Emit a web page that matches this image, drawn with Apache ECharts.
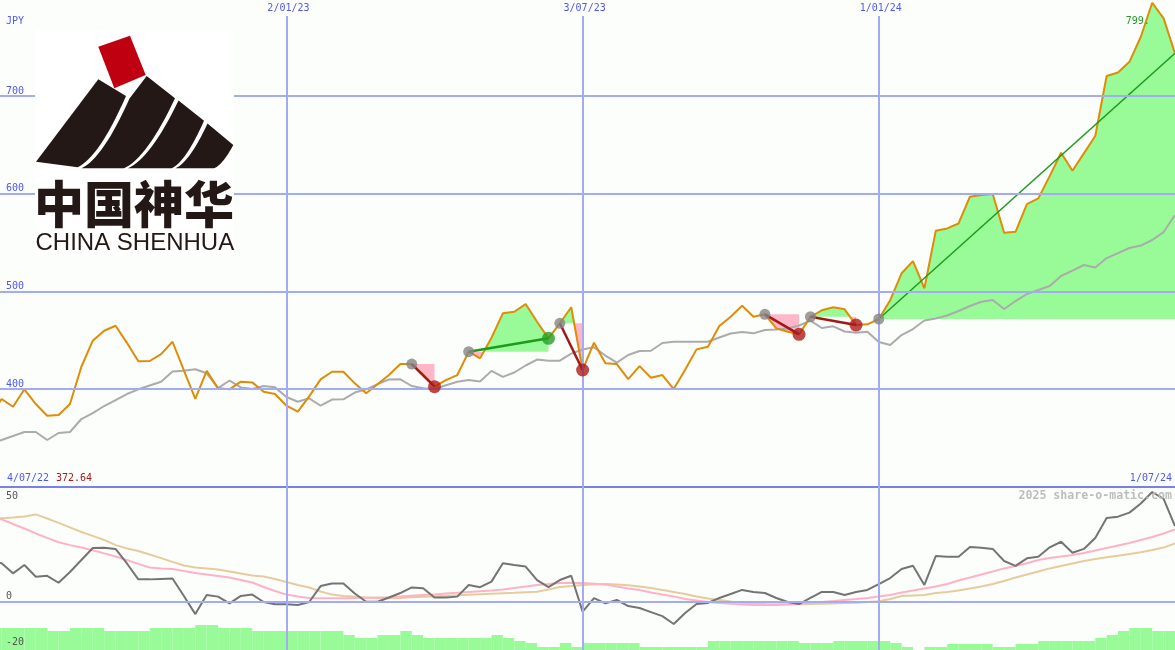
<!DOCTYPE html>
<html><head><meta charset="utf-8">
<script src="https://cdn.jsdelivr.net/npm/echarts@6/dist/echarts.min.js"></script>
<style>html,body{margin:0;padding:0;background:#fcfefc;} #c{width:1175px;height:650px;}</style>
</head><body><div id="c"></div>
<script>
// ---- axis range (weekly data, Mondays) ----
const firstWeek = Date.UTC(2022, 6, 4);
const WEEK = 7 * 86400000;
const axisStart = Date.UTC(2022, 6, 10);
const axisEnd = Date.UTC(2024, 6, 1);

// ---- upper panel: weekly close (JPY) and its moving average ----
const price = [372.64, 389.8, 381.9, 399.7, 384.6, 372.7, 373.4, 384.6, 422.8, 449.5, 459.7,
  464.8, 447.3, 428.4, 428.7, 435.8, 448.4, 419.0, 389.8, 418.7, 400.7,
  399.7, 407.5, 406.8, 397.2, 394.9, 382.9, 376.8, 392.5, 409.9, 417.7,
  417.7, 405.8, 395.6, 404.8, 414.3, 425.6, 425.6, 415.0, 402.4, 409.2,
  414.3, 438.2, 431.4, 452.5, 477.5, 479.1, 487.0, 468.9, 451.9, 467.3,
  483.7, 419.5, 447.4, 426.3, 425.6, 410.2, 423.5, 411.6, 414.3, 400.0,
  419.8, 440.6, 443.3, 464.5, 474.0, 485.3, 474.0, 476.5, 462.1, 458.7,
  456.0, 474.0, 480.6, 483.7, 481.6, 465.5, 466.2, 471.7, 491.0, 518.5,
  531.0, 503.1, 562.0, 564.4, 569.5, 596.9, 598.6, 599.6, 560.0, 561.0,
  589.4, 595.2, 618.0, 641.9, 623.4, 641.3, 659.0, 720.5, 724.0, 735.0,
  760.7, 795.5, 779.5, 743.7];
const average = [345, 347.8, 351.9, 356, 356, 347.8, 355, 356, 369.3, 375.4, 382.6,
  388.7, 394.9, 399.7, 403.6, 407.5, 417.9, 418.7, 420.2, 416.1, 401,
  408.7, 401.7, 400, 403.1, 401.7, 391.8, 387, 390.5, 382.9, 389.2,
  389.5, 396.4, 399.7, 405.1, 409.7, 409.9, 403.1, 400.7, 400, 403.8,
  407.4, 409.2, 407.7, 418.6, 412.5, 416.9, 424.1, 430.2, 429, 429,
  436.3, 440.4, 442.7, 434.3, 427.1, 434.8, 438.9, 439.2, 447.1, 448.4,
  448.4, 448.4, 448.4, 452.7, 456.8, 458.4, 457, 460.4, 460.9, 461.9,
  465, 470.1, 462.5, 464.2, 458.9, 457.6, 458.6, 448.1, 445, 455.3,
  461.4, 470.1, 472.2, 475.3, 479.9, 485, 489.3, 491.1, 481.9, 490.1,
  497.3, 501.4, 505.5, 515.7, 521.3, 527, 524.4, 534.1, 539.2, 544.4,
  546.9, 552.6, 560.7, 578.2];

// ---- trades (week indices) ----
const tradeEntry = [37, 42, 50, 68, 72, 78];
const tradeExit = [39, 49, 52, 71, 76, 104];
const tradeOpen = [false, false, false, false, false, true];

// ---- lower panel: oscillator, its two averages, volume ----
const momentum = [18, 17.3, 12.8, 16.5, 11.3, 11.7, 8.6, 13.4, 18.75, 24.1, 24.2,
  23.7, 17.2, 10.1, 10.1, 10.3, 10.5, 2.7, -5.4, 3.1, 2.4,
  -0.6, 2.7, 3.3, 0, -1, -1, -1.3, 0, 7.1, 8.3,
  8.3, 3.8, 0.1, 0.1, 2, 4, 6.5, 6.1, 2, 2,
  2.4, 7.6, 6.6, 9.1, 17.3, 16.5, 15.8, 9.8, 6.6, 9.8,
  11.7, -4.3, 1.7, -0.6, 0.9, -1.8, -2.7, -4.5, -6.3, -9.8,
  -4.9, -0.9, -0.4, 1.8, 3.6, 5.4, 4.5, 4, 1.8, 0,
  -0.9, 1.8, 4.5, 4.5, 3.1, 4.5, 5.4, 8, 10.7, 14.7,
  16.2, 7.6, 20.5, 20.2, 20.2, 24.6, 24.2, 23.7, 18.3, 16.1,
  19.5, 20.2, 24.4, 26.9, 22, 23.7, 28.6, 37.5, 38.1, 39.9,
  44, 49.1, 46, 33.9];
const momFast = [37.5, 36.9, 34.8, 32.8, 30.6, 28.6, 26.7, 25.4, 24.3, 23.1, 21.7,
  20.3, 18.75, 17, 15.4, 15, 14.7, 13.8, 12.9, 12.3, 11.6,
  10.9, 9.8, 8.7, 6.7, 4.9, 3.3, 2.5, 1.8, 1.7, 1.7,
  1.7, 1.8, 1.9, 2, 2.1, 2.5, 2.8, 3.1, 3.4, 3.8,
  4.1, 4.5, 4.8, 5.1, 5.6, 6.25, 6.9, 7.6, 8, 8.5,
  8.6, 8.5, 8.2, 7.8, 6.9, 6, 5.4, 4.2, 3.3, 2.5,
  1.3, 0.7, 0, -0.4, -0.8, -1.1, -1.3, -1.3, -1.3, -1.1,
  -0.9, -0.4, 0, 0.4, 0.9, 1.3, 1.8, 2.5, 3.1, 4.2,
  5.1, 6, 6.9, 8, 9.6, 10.9, 12.3, 13.6, 15, 16.1,
  17.3, 18.75, 19.6, 20.3, 21, 21.9, 23, 24.1, 25.2, 26.3,
  27.7, 29, 30.6, 32.4];
const momSlow = [37.2, 37.4, 37.7, 38.2, 39.1, 37.3, 35.3, 33.3, 31.25, 29.5, 27.7,
  25.4, 23.9, 22.8, 21.2, 19.6, 17.9, 16.3, 15.4, 15, 14.5,
  13.6, 12.7, 11.8, 11.4, 10.3, 8.9, 7.6, 6.5, 4.7, 3.3,
  2.7, 2.4, 2, 1.7, 1.65, 1.8, 2.1, 2.3, 2.5, 2.8,
  3, 3.2, 3.5, 3.7, 3.9, 4.1, 4.4, 4.6, 5.6, 6.7,
  7.1, 7.6, 7.9, 8, 7.8, 7.5, 6.9, 6.25, 5.4, 4.5,
  3.6, 2.5, 1.6, 0.9, 0.2, -0.4, -0.7, -0.9, -1, -1,
  -1, -0.9, -0.8, -0.7, -0.4, -0.3, 0, 0.3, 1.3, 2.7,
  2.9, 3.1, 4, 4.5, 5.1, 6, 6.9, 8, 9.4, 10.9,
  12.3, 13.6, 15, 16.1, 17.2, 18.3, 19.2, 20, 20.6, 21.4,
  22.2, 23.2, 24.3, 26.1];
const volume = [22, 22, 22, 22, 22, 19, 19, 22, 22, 22, 19,
  19, 19, 19, 22, 22, 22, 22, 25, 25, 22,
  22, 22, 19, 19, 19, 19, 19, 19, 19, 19,
  15, 12, 12, 15, 15, 19, 15, 12, 12, 12,
  12, 12, 12, 15, 12, 9, 7, 3, 3, 7,
  3, 7, 7, 7, 7, 7, 3, 3, 3, 3,
  3, 3, 9, 9, 9, 9, 9, 9, 9, 9,
  7, 7, 7, 9, 9, 9, 9, 9, 7, 3,
  0, 3, 3, 6, 6, 6, 6, 3, 3, 6,
  6, 9, 9, 9, 9, 9, 12, 15, 19, 22,
  22, 19, 19, 19];

// ---- ticks / labels ----
const priceTicks = [400, 500, 600, 700];
const momTickLabels = ['50', '0', '-20'];
const guideDates = ['2023-01-02', '2023-07-03', '2024-01-01'];
const guideLabels = ['2/01/23', '3/07/23', '1/01/24'];
const startLabel = '4/07/22', startPrice = '372.64', endLabel = '1/07/24';
const peakLabel = '799.';
const currency = 'JPY';
const credit = '2025 share-o-matic.com';

const dates = price.map((_, i) => firstWeek + i * WEEK);
const pair = arr => arr.map((v, i) => [dates[i], v]);
const guideTs = guideDates.map(d => Date.parse(d));
const guideTop = 781.9;

const BLUE = '#5058ee', GRID = '#a3abf1';
const GREEN_FILL = '#98fb98', PINK_FILL = '#ffb6c8';

const chart = echarts.init(document.getElementById('c'));

const option = {
  animation: false,
  backgroundColor: '#fcfefc',
  grid: [
    {left: 0, right: 0, top: 0, height: 486.7},
    {left: 0, right: 0, top: 487, height: 163}
  ],
  xAxis: [
    {type: 'time', gridIndex: 0, min: axisStart, max: axisEnd, show: false},
    {type: 'time', gridIndex: 1, min: axisStart, max: axisEnd, position: 'top',
      axisLine: {show: true, onZero: false, lineStyle: {color: '#7880ee', width: 2}},
      axisTick: {show: false}, axisLabel: {show: false}, splitLine: {show: false}}
  ],
  yAxis: [
    {type: 'value', gridIndex: 0, min: 300, max: 798.3, show: false},
    {type: 'value', gridIndex: 1, min: -21.43, max: 51.34, show: false},
    {type: 'value', gridIndex: 1, min: 0, max: 163, show: false}
  ],
  series: [
    { // upper guides
      type: 'line', xAxisIndex: 0, yAxisIndex: 0, data: [], z: 0,
      markLine: {
        silent: true, symbol: ['none', 'none'], label: {show: false},
        lineStyle: {type: 'solid', color: GRID, width: 2},
        data: priceTicks.map(v => ({yAxis: v}))
          .concat(guideTs.map(t => [{coord: [t, guideTop]}, {coord: [t, 300]}]))
      }
    },
    { // trade fills
      type: 'custom', xAxisIndex: 0, yAxisIndex: 0, z: 1, clip: true,
      data: tradeEntry.map(e => [dates[e], price[e]]),
      renderItem: function (params, api) {
        const k = params.dataIndex;
        const e = tradeEntry[k], x = tradeExit[k];
        const ly = api.coord([dates[e], price[e]])[1];
        const pts = [];
        for (let i = e; i <= x; i++) pts.push(api.coord([dates[i], price[i]]));
        const up = [], dn = [];
        for (let j = 0; j < pts.length; j++) {
          const p = pts[j];
          if (j > 0) {
            const q = pts[j - 1];
            if ((q[1] - ly) * (p[1] - ly) < 0) {
              const t = (ly - q[1]) / (p[1] - q[1]);
              const c = [q[0] + t * (p[0] - q[0]), ly];
              up.push(c); dn.push(c);
            }
          }
          up.push([p[0], Math.min(p[1], ly)]);
          dn.push([p[0], Math.max(p[1], ly)]);
        }
        const x0 = pts[0][0], x1 = pts[pts.length - 1][0];
        up.push([x1, ly], [x0, ly]);
        dn.push([x1, ly], [x0, ly]);
        return {type: 'group', children: [
          {type: 'polygon', shape: {points: up}, style: {fill: GREEN_FILL}},
          {type: 'polygon', shape: {points: dn}, style: {fill: PINK_FILL}}
        ]};
      }
    },
    {type: 'line', xAxisIndex: 0, yAxisIndex: 0, data: pair(average), z: 2,
      symbol: 'none', lineStyle: {color: '#ababab', width: 2}},
    {type: 'line', xAxisIndex: 0, yAxisIndex: 0, data: pair(price), z: 3,
      symbol: 'none', lineStyle: {color: '#df8c06', width: 2}},
    { // connectors
      type: 'custom', xAxisIndex: 0, yAxisIndex: 0, z: 4, clip: true,
      data: tradeEntry.map(e => [dates[e], price[e]]),
      renderItem: function (params, api) {
        const k = params.dataIndex;
        const e = tradeEntry[k], x = tradeExit[k];
        const a = api.coord([dates[e], price[e]]);
        const b = api.coord([dates[x], price[x]]);
        const win = price[x] >= price[e];
        return {type: 'line', shape: {x1: a[0], y1: a[1], x2: b[0], y2: b[1]},
          style: {stroke: win ? '#1f9a1f' : '#a01818', lineWidth: tradeOpen[k] ? 1.5 : 2.5}};
      }
    },
    {type: 'scatter', xAxisIndex: 0, yAxisIndex: 0, z: 5, symbolSize: 11,
      itemStyle: {color: '#858585'},
      data: tradeEntry.map(e => [dates[e], price[e]])},
    {type: 'scatter', xAxisIndex: 0, yAxisIndex: 0, z: 6, symbolSize: 13,
      itemStyle: {color: '#ad1c1c'},
      data: tradeExit.filter((x, k) => !tradeOpen[k] && price[x] < price[tradeEntry[k]]).map(x => [dates[x], price[x]])},
    {type: 'scatter', xAxisIndex: 0, yAxisIndex: 0, z: 6, symbolSize: 13,
      itemStyle: {color: '#24a024'},
      data: tradeExit.filter((x, k) => !tradeOpen[k] && price[x] >= price[tradeEntry[k]]).map(x => [dates[x], price[x]])},
    { // lower guides
      type: 'line', xAxisIndex: 1, yAxisIndex: 1, data: [], z: 0,
      markLine: {
        silent: true, symbol: ['none', 'none'], label: {show: false},
        lineStyle: {type: 'solid', color: GRID, width: 2},
        data: guideTs.map(t => ({xAxis: t})).concat([{yAxis: 0}])
      }
    },
    {type: 'line', xAxisIndex: 1, yAxisIndex: 1, data: pair(momSlow), z: 2,
      symbol: 'none', lineStyle: {color: '#e6cc9c', width: 2}},
    {type: 'line', xAxisIndex: 1, yAxisIndex: 1, data: pair(momFast), z: 2,
      symbol: 'none', lineStyle: {color: '#ffb2c6', width: 2}},
    {type: 'line', xAxisIndex: 1, yAxisIndex: 1, data: pair(momentum), z: 3,
      symbol: 'none', lineStyle: {color: '#747474', width: 2}},
    { // volume bars
      type: 'custom', xAxisIndex: 1, yAxisIndex: 2, z: 4, clip: true,
      data: pair(volume),
      renderItem: function (params, api) {
        const t = api.value(0);
        const a = api.coord([t, api.value(1)]);
        const b = api.coord([t + WEEK, 0]);
        return {type: 'rect', shape: {x: a[0], y: a[1], width: b[0] - a[0], height: b[1] - a[1]},
          style: {fill: GREEN_FILL}};
      }
    }
  ]
};
chart.setOption(option);

// ---- texts and logo ----
function txt(x, y, text, fill, font, align) {
  return {type: 'text', z: 100, x: x, y: y,
    style: {text: text, fill: fill, font: font, align: align || 'left', textAlign: align || 'left',
      verticalAlign: 'middle', textVerticalAlign: 'middle'}};
}
const F10 = '10px "DejaVu Sans Mono"';
const els = [];

// logo (drawn first, texts on top)
const INK = '#231815';
els.push({type: 'rect', z: 99, shape: {x: 35, y: 30, width: 199, height: 226}, style: {fill: '#ffffff'}});
els.push({type: 'polygon', z: 100, shape: {points: [[98.3, 46.7], [130, 35.7], [145.7, 75], [114.3, 88.3]]}, style: {fill: '#bf0010'}});
function ctrl(a, b) { return [a[0] + 0.55 * (b[0] - a[0]), a[1] + 0.85 * (b[1] - a[1])]; }
function quad(a, c, b, n) {
  const out = [];
  for (let i = 1; i <= n; i++) {
    const t = i / n, u = 1 - t;
    out.push([u * u * a[0] + 2 * u * t * c[0] + t * t * b[0], u * u * a[1] + 2 * u * t * c[1] + t * t * b[1]]);
  }
  return out;
}
function stripe(pts, leftCurve) {
  const tl = pts[0], tr = pts[pts.length - 3], br = pts[pts.length - 2], bl = pts[pts.length - 1];
  let poly = [];
  for (let i = 0; i < pts.length - 2; i++) poly.push(pts[i]);
  poly = poly.concat(quad(tr, ctrl(tr, br), br, 16));
  poly.push(bl);
  if (leftCurve) {
    const c2 = ctrl(tl, bl);
    poly = poly.concat(quad(bl, c2, tl, 16));
  }
  return {type: 'polygon', z: 100, shape: {points: poly}, style: {fill: INK}};
}
els.push(stripe([[98.3, 79.3], [126, 96], [77.7, 167.3], [36, 161.7]], false));
els.push(stripe([[129.5, 98.5], [146.7, 76], [175, 98.3], [124, 168.3], [81.5, 168.3]], true));
els.push(stripe([[178.5, 100.5], [204, 120.7], [171.7, 168.3], [128, 168.3]], true));
els.push(stripe([[207.5, 123.5], [233.3, 145], [214, 168.3], [175.5, 168.3]], true));
els.push(txt(34, 204, '中国神华', INK, '900 50px "Noto Sans CJK SC"'));
els.push(txt(35.5, 243.5, 'CHINA SHENHUA', INK, '24px "Liberation Sans"'));

els.push(txt(6, 21.5, currency, BLUE, F10));
priceTicks.forEach(v => {
  const y = chart.convertToPixel({yAxisIndex: 0}, v);
  els.push(txt(6, y - 5, String(v), BLUE, F10));
});
guideTs.forEach((t, i) => {
  const x = chart.convertToPixel({xAxisIndex: 0}, t);
  els.push(txt(x + 2, 8.5, guideLabels[i], BLUE, F10, 'center'));
});
const peakIdx = price.indexOf(Math.max.apply(null, price));
const pk = chart.convertToPixel({xAxisIndex: 0, yAxisIndex: 0}, [dates[peakIdx], price[peakIdx]]);
els.push(txt(pk[0] - 2.5, pk[1] + 19, peakLabel, '#2a9a2a', F10, 'right'));
els.push(txt(7, 478.5, startLabel, BLUE, F10));
els.push(txt(56, 478.5, startPrice, '#a01c1c', F10));
els.push(txt(1172, 478.5, endLabel, BLUE, F10, 'right'));
els.push(txt(1172, 496, credit, '#bdbdbd', 'bold 11.6px "DejaVu Sans Mono"', 'right'));
els.push(txt(6, 496, momTickLabels[0], '#555555', F10));
els.push(txt(6, 596, momTickLabels[1], '#555555', F10));
els.push(txt(6, 642.5, momTickLabels[2], '#555555', F10));

chart.setOption({graphic: {elements: els}});
</script>
</body></html>
